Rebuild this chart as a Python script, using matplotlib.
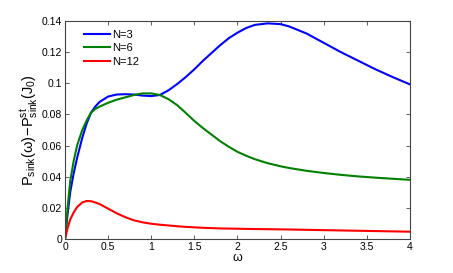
import matplotlib
matplotlib.use("Agg")
import matplotlib.pyplot as plt

plt.rcParams['font.family'] = ['Liberation Sans', 'DejaVu Sans']
plt.rcParams['mathtext.fontset'] = 'custom'
plt.rcParams['mathtext.rm'] = 'Liberation Sans'
plt.rcParams['mathtext.it'] = 'Liberation Sans:italic'

omega = [0, 0.03, 0.06, 0.1, 0.14, 0.2, 0.25, 0.3, 0.35, 0.4, 0.5, 0.6, 0.7, 0.8,
         0.9, 1.0, 1.1, 1.2, 1.3, 1.4, 1.5, 1.6, 1.7, 1.8, 1.9, 2.0, 2.1, 2.2,
         2.35, 2.5, 2.6, 2.8, 3.0, 3.2, 3.4, 3.6, 3.8, 4.0]

p_n3 = [0, 0.016, 0.03, 0.042, 0.052, 0.065, 0.074, 0.081, 0.085, 0.088, 0.0915,
        0.0928, 0.093, 0.0928, 0.0921, 0.0918, 0.0925, 0.0955, 0.0995, 0.104,
        0.109, 0.1145, 0.1195, 0.1245, 0.129, 0.1325, 0.1355, 0.1375, 0.1385,
        0.138, 0.1365, 0.132, 0.126, 0.12, 0.1145, 0.109, 0.104, 0.0993]

p_n6 = [0, 0.02, 0.037, 0.05, 0.06, 0.07, 0.076, 0.081, 0.0835, 0.085, 0.0875,
        0.0895, 0.091, 0.0925, 0.0935, 0.0935, 0.0925, 0.0898, 0.086, 0.081,
        0.0758, 0.0712, 0.067, 0.0628, 0.0592, 0.056, 0.0535, 0.0513, 0.0487,
        0.0467, 0.0456, 0.0438, 0.0424, 0.0412, 0.0402, 0.0394, 0.0387, 0.038]

p_n12 = [0, 0.007, 0.0125, 0.017, 0.0205, 0.0235, 0.0244, 0.0243, 0.0235,
         0.0225, 0.0195, 0.0165, 0.014, 0.012, 0.0107, 0.0098, 0.0092, 0.0087,
         0.0082, 0.0078, 0.0075, 0.0072, 0.007, 0.0068, 0.0067, 0.0066, 0.0065,
         0.0064, 0.0063, 0.0062, 0.0061, 0.0059, 0.0057, 0.0055, 0.0053,
         0.0051, 0.0049, 0.0047]

labels = ['N=3', 'N=6', 'N=12']
colors = ['#0000ff', '#008000', '#ff0000']

fig = plt.figure(figsize=(4.53, 2.73), dpi=100)
ax = fig.add_axes([0.1435, 0.1245, 0.7615, 0.7985])

for vals, lab, col in zip([p_n3, p_n6, p_n12], labels, colors):
    ax.plot(omega, vals, color=col, lw=1.5, label=lab)

ax.set_xlim(0, 4)
ax.set_ylim(0, 0.14)
ax.set_xticks([0, 0.5, 1, 1.5, 2, 2.5, 3, 3.5, 4])
ax.set_xticklabels(['0', '0.5', '1', '1.5', '2', '2.5', '3', '3.5', '4'])
ax.set_yticks([0, 0.02, 0.04, 0.06, 0.08, 0.1, 0.12, 0.14])
ax.set_yticklabels(['0', '0.02', '0.04', '0.06', '0.08', '0.1', '0.12', '0.14'])
ax.tick_params(direction='in', top=True, right=True, labelsize=7.5,
               length=3, width=0.6, color='#444444', pad=2)
for s in ax.spines.values():
    s.set_linewidth(0.8)
    s.set_color('#444444')

ax.set_xlabel(r'$\mathrm{\omega}$', fontsize=9, labelpad=0)
ax.set_ylabel(r'$\mathrm{P_{sink}(\omega)\!-\!P^{st}_{sink}(J_0)}$', fontsize=10.5, labelpad=1)

ax.legend(loc='upper left', frameon=False, fontsize=8, handlelength=2.3,
          handletextpad=0.2, labelspacing=0.3, borderaxespad=0.4,
          bbox_to_anchor=(0.03, 1.0))

fig.savefig('out.png', dpi=100)
